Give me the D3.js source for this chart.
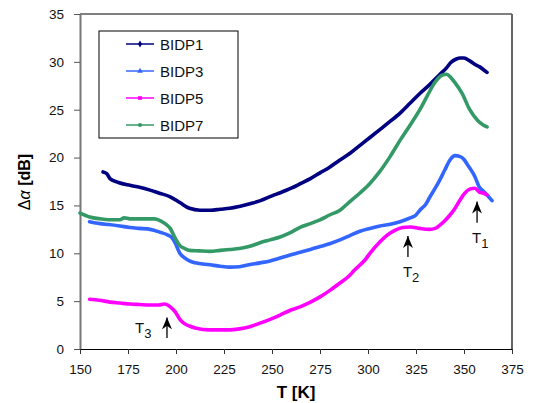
<!DOCTYPE html>
<html>
<head>
<meta charset="utf-8">
<script src="https://cdn.jsdelivr.net/npm/d3@7"></script>
<style>
  body { margin: 0; background: #fff; }
  svg { font-family: "Liberation Sans", Arial, sans-serif; }
  .tick-label { font-size: 13.5px; fill: #111; }
  .axis-title { font-size: 16px; font-weight: bold; fill: #000; }
  .legend-text { font-size: 15px; fill: #111; }
  .note { font-size: 15px; fill: #111; }
</style>
</head>
<body>
<svg id="chart" width="534" height="403"></svg>
<script>
// values: temperature T [K] and delta alpha [dB]
const bidp1T = [162, 164, 165.6, 170, 176, 181, 186.5, 191, 197, 202, 207, 212.5, 218, 223, 228, 233, 239, 244, 250, 254, 260, 265, 270, 275, 280, 285, 291, 296, 301, 306, 311, 317, 322, 327, 332, 337.5, 341, 343, 346, 348, 350, 353, 356, 358, 360, 362];
const bidp1V = [18.5, 18.3, 17.8, 17.4, 17.1, 16.9, 16.6, 16.3, 15.9, 15.3, 14.7, 14.5, 14.5, 14.6, 14.7, 14.9, 15.2, 15.5, 16.0, 16.3, 16.8, 17.3, 17.8, 18.4, 19.0, 19.7, 20.5, 21.3, 22.1, 22.9, 23.7, 24.7, 25.7, 26.7, 27.6, 28.7, 29.4, 29.9, 30.3, 30.4, 30.4, 30.1, 29.7, 29.5, 29.2, 28.9];

const bidp3T = [155, 160.4, 165, 170.8, 176, 181, 186.5, 191.7, 195.8, 198, 199.5, 202, 204.7, 207, 210, 217.7, 223, 228, 233, 238, 243.75, 249, 254.2, 259, 264.6, 270, 275, 280, 285.4, 290, 295.8, 301, 306.25, 311, 316.7, 322, 325, 327, 330, 332, 335, 337.5, 340, 342.7, 345.3, 348, 350, 352, 355.7, 358, 360, 362, 364.6];
const bidp3V = [13.3, 13.1, 13.0, 12.85, 12.7, 12.6, 12.5, 12.2, 11.9, 11.6, 11.1, 10.0, 9.5, 9.2, 9.0, 8.8, 8.65, 8.55, 8.6, 8.8, 9.0, 9.2, 9.5, 9.8, 10.1, 10.4, 10.7, 11.0, 11.4, 11.8, 12.3, 12.6, 12.85, 13.0, 13.3, 13.7, 14.0, 14.5, 15.1, 15.8, 16.8, 17.7, 18.7, 19.75, 20.2, 20.1, 19.8, 19.2, 18.0, 16.9, 16.5, 16.1, 15.5];

const bidp5T = [155, 160, 165.6, 170.8, 176, 181, 186.5, 191, 194, 197, 199.5, 202, 204.7, 207, 210, 217.7, 223, 228, 233, 238, 243.75, 249, 254.2, 259, 264.6, 270, 275, 280, 285.4, 290, 293, 298.4, 301, 306.25, 310, 314, 318, 322, 327, 332, 335, 337.5, 340, 342.7, 345, 347, 350.5, 353, 355.7, 358, 360, 362];
const bidp5V = [5.2, 5.1, 4.9, 4.8, 4.7, 4.65, 4.6, 4.6, 4.7, 4.4, 3.9, 3.1, 2.6, 2.4, 2.2, 2.0, 2.0, 2.0, 2.1, 2.3, 2.7, 3.1, 3.55, 4.0, 4.4, 4.9, 5.45, 6.1, 6.9, 7.6, 8.25, 9.3, 10.0, 11.2, 11.9, 12.4, 12.7, 12.75, 12.6, 12.5, 12.6, 12.95, 13.4, 14.0, 14.6, 15.25, 16.3, 16.7, 16.8, 16.4, 16.3, 16.1];

const bidp7T = [150, 155, 160.4, 165, 170.8, 173, 176, 181, 186, 189, 192.7, 195, 197, 199.5, 202, 204.5, 207, 212, 217.7, 223, 228, 233, 238, 243.75, 249, 254.2, 259, 264.6, 270, 275, 280, 285.4, 290, 295.8, 301, 306, 311.5, 316.7, 322, 327, 331, 335, 338.5, 341, 343, 345, 349, 353, 357, 360, 362];
const bidp7V = [14.2, 13.8, 13.6, 13.5, 13.5, 13.7, 13.6, 13.6, 13.6, 13.6, 13.3, 13.0, 12.6, 11.6, 10.8, 10.5, 10.3, 10.25, 10.2, 10.3, 10.4, 10.5, 10.7, 11.1, 11.4, 11.7, 12.1, 12.7, 13.1, 13.5, 14.0, 14.5, 15.3, 16.3, 17.3, 18.5, 20.1, 21.8, 23.4, 25.0, 26.5, 27.9, 28.6, 28.7, 28.4, 27.9, 26.7, 25.0, 23.9, 23.4, 23.2];

const seriesNames = ["BIDP1", "BIDP3", "BIDP5", "BIDP7"];
const seriesColors = ["#000080", "#3366ff", "#ff00ff", "#339966"];
const seriesT = [bidp1T, bidp3T, bidp5T, bidp7T];
const seriesV = [bidp1V, bidp3V, bidp5V, bidp7V];

const xTicks = [150, 175, 200, 225, 250, 275, 300, 325, 350, 375];
const yTicks = [0, 5, 10, 15, 20, 25, 30, 35];

// arrow notes: label, subscript, T, tip value, tail value
const notes = [
  {label: "T", sub: "1", t: 356.8, tip: 15.4, tail: 13.2},
  {label: "T", sub: "2", t: 320.8, tip: 11.8, tail: 9.6},
  {label: "T", sub: "3", t: 195.3, tip: 3.3, tail: 1.15}
];

const svg = d3.select("#chart");

const x = d3.scaleLinear().domain([150, 375]).range([80, 512]);
const y = d3.scaleLinear().domain([0, 35]).range([349, 14]);

// plot frame
svg.append("line")
  .attr("x1", x(150)).attr("x2", x(375))
  .attr("y1", y(35)).attr("y2", y(35))
  .attr("stroke", "#000").attr("stroke-width", 1);
svg.append("line")
  .attr("x1", x(375)).attr("x2", x(375))
  .attr("y1", y(35)).attr("y2", y(0))
  .attr("stroke", "#666").attr("stroke-width", 2);

// y axis
const yAxis = d3.axisLeft(y).tickValues(yTicks).tickSize(6).tickSizeOuter(0);
const gy = svg.append("g")
  .attr("transform", `translate(${x(150)},0)`)
  .call(yAxis);
gy.select(".domain").attr("stroke", "#777").attr("stroke-width", 2);
gy.selectAll(".tick line").attr("stroke", "#555");
gy.selectAll(".tick text")
  .attr("class", "tick-label")
  .attr("x", -16);
gy.attr("font-family", null).attr("font-size", null);

// x axis
const xAxis = d3.axisBottom(x).tickValues(xTicks).tickSize(5).tickSizeOuter(0);
const gx = svg.append("g")
  .attr("transform", `translate(0,${y(0)})`)
  .call(xAxis);
gx.select(".domain").attr("stroke", "#000").attr("stroke-width", 1);
gx.selectAll(".tick line").attr("stroke", "#333");
gx.selectAll(".tick text")
  .attr("class", "tick-label")
  .attr("y", 15);
gx.attr("font-family", null).attr("font-size", null);

// axis titles
svg.append("text")
  .attr("class", "axis-title")
  .style("font-size", "17px")
  .attr("x", 296).attr("y", 398)
  .attr("text-anchor", "middle")
  .text("T [K]");

const yTitle = svg.append("text")
  .attr("class", "axis-title")
  .attr("transform", "translate(30,182) rotate(-90)")
  .attr("text-anchor", "middle");
yTitle.append("tspan").style("font-weight", "normal").text("Δ");
yTitle.append("tspan").style("font-weight", "normal").style("font-style", "italic").text("α");
yTitle.append("tspan").text(" [dB]");

// series lines
const line = d3.line()
  .x(d => x(d[0]))
  .y(d => y(d[1]))
  .curve(d3.curveMonotoneX);

seriesNames.forEach((name, i) => {
  const pts = seriesT[i].map((t, j) => [t, seriesV[i][j]]);
  svg.append("path")
    .attr("class", "series")
    .attr("d", line(pts))
    .attr("fill", "none")
    .attr("stroke", seriesColors[i])
    .attr("stroke-width", 3.6)
    .attr("stroke-linejoin", "round")
    .attr("stroke-linecap", "round");
});

// arrow notes
svg.append("defs").append("marker")
  .attr("id", "arrowhead")
  .attr("viewBox", "0 0 10 10")
  .attr("refX", 10).attr("refY", 5)
  .attr("markerWidth", 12).attr("markerHeight", 10)
  .attr("markerUnits", "userSpaceOnUse")
  .attr("orient", "auto")
  .attr("preserveAspectRatio", "none")
  .append("path")
  .attr("d", "M0,0 L10,5 L0,10 L3,5 Z")
  .attr("fill", "#000");

notes.forEach(n => {
  svg.append("line")
    .attr("x1", x(n.t)).attr("x2", x(n.t))
    .attr("y1", y(n.tail)).attr("y2", y(n.tip))
    .attr("stroke", "#000").attr("stroke-width", 1.3)
    .attr("marker-end", "url(#arrowhead)");
});

const noteText = (label, sub, px, py) => {
  const t = svg.append("text").attr("class", "note").attr("x", px).attr("y", py);
  t.append("tspan").text(label);
  t.append("tspan").attr("dy", 5).style("font-size", "13px").text(sub);
};
noteText("T", "1", x(356.8) - 5, y(13.2) + 20);
noteText("T", "2", x(320.8) - 5, y(9.6) + 20);
noteText("T", "3", x(195.3) - 32, y(1.15) - 5);

// legend
const legend = svg.append("g").attr("transform", "translate(99,31)");
legend.append("rect")
  .attr("width", 139).attr("height", 107)
  .attr("fill", "#fff").attr("stroke", "#000").attr("stroke-width", 1);

const markerShapes = [d3.symbolDiamond, d3.symbolTriangle, d3.symbolSquare, d3.symbolCircle];
seriesNames.forEach((name, i) => {
  const row = legend.append("g").attr("transform", `translate(0,${13 + i * 27})`);
  row.append("line")
    .attr("x1", 27).attr("x2", 55)
    .attr("stroke", seriesColors[i]).attr("stroke-width", 1.5);
  row.append("path")
    .attr("transform", "translate(41,0)")
    .attr("d", d3.symbol().type(markerShapes[i]).size(14)())
    .attr("fill", seriesColors[i]);
  row.append("text")
    .attr("class", "legend-text")
    .attr("x", 61).attr("y", 5.5)
    .text(name);
});
</script>
</body>
</html>
